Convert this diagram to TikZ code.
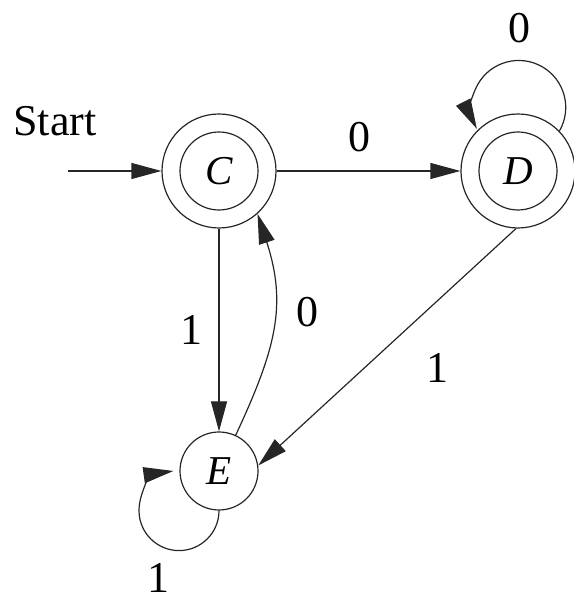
\documentclass[tikz,border=0pt]{standalone}
\usepackage{fontspec}
\setmainfont{Liberation Serif}
\usetikzlibrary{arrows.meta}
\tikzset{
	state/.style={circle, draw, inner sep=0pt, minimum size=39pt, font=\fontsize{20.5}{24}\selectfont\itshape},
	accepting/.style={state, minimum size=57pt, path picture={\draw (path picture bounding box.center) circle[radius=19.5pt];}},
	lbl/.style={inner sep=2pt, font=\fontsize{22}{26}\selectfont},
}
\begin{document}
\begin{tikzpicture}[x=0.5pt, y=0.5pt, line width=0.6pt, draw=black!85, >={Triangle[length=15pt,width=8pt]}]
	\useasboundingbox (0,0) rectangle (573,603);
	\node[accepting] (C) at (219,432) {C};
	\node[accepting] (D) at (518,432) {D};
	\node[state] (E) at (219,132) {E};
	\coordinate (start) at (68,432);
	\node[lbl] (startlbl) at (55,482) {Start};
	\draw[->] (start) -- (C);
	\draw[->] (C) -- (D) node[lbl, pos=0.45, above=7pt] {0};
	\draw[->] (C) -- (E) node[lbl, midway, left=6pt] {1};
	\draw[->] (E.65) to[out=65, in=-72, looseness=1.1] node[lbl, pos=0.57, right=9pt] {0} (C.-48);
	\draw[->] (D.-92) -- (E.8) node[lbl, midway, xshift=25pt, yshift=-10.5pt] {1};
	\draw[->] (D.44) arc[start angle=-30, end angle=207, radius=23.5pt] node[lbl, pos=0.5, above=6.7pt] {0};
	\draw[->] (E.-90) arc[start angle=0, end angle=-262, radius=20pt] node[lbl, pos=0.46, below=7pt] {1};
\end{tikzpicture}
\end{document}
